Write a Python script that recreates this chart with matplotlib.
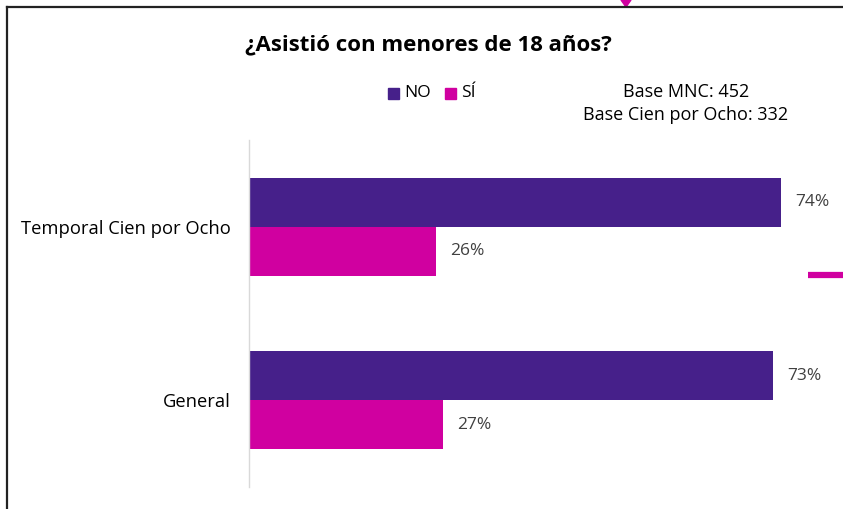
import matplotlib.pyplot as plt
from matplotlib.lines import Line2D
from matplotlib.patches import Polygon

plt.rcParams['font.family'] = ['Open Sans', 'DejaVu Sans']

# Datos del gráfico
categorias = ['General', 'Temporal Cien por Ocho']
valores_no = [73, 74]
valores_si = [27, 26]
series = ['NO', 'SÍ']
titulo = '¿Asistió con menores de 18 años?'
bases = ['Base MNC: 452', 'Base Cien por Ocho: 332']

color_no = '#46208A'
color_si = '#D000A0'

fig = plt.figure(figsize=(8.43, 5.09), dpi=100)
ax = fig.add_axes([249 / 843, 1 - 487 / 509, (838 - 249) / 843, (487 - 140) / 509])

alto = 0.283
pos = range(len(categorias))
b_no = ax.barh([p + alto / 2 for p in pos], valores_no, height=alto, color=color_no)
b_si = ax.barh([p - alto / 2 for p in pos], valores_si, height=alto, color=color_si)

for barras in (b_no, b_si):
    for b in barras:
        ax.text(b.get_width() + 2.0, b.get_y() + b.get_height() / 2, f"{int(b.get_width())}%",
                va='center', ha='left', fontsize=12.5, color='#404040')

ax.set_xlim(0, 82)
ax.set_ylim(-0.5, 1.5)
ax.set_yticks(list(pos))
ax.set_yticklabels(categorias, fontsize=13.2, color='black')
ax.tick_params(axis='y', length=0, pad=13)
ax.xaxis.set_visible(False)

# Solo la línea del eje Y en gris claro
for s in ['top', 'right', 'bottom']:
    ax.spines[s].set_visible(False)
ax.spines['left'].set_color('#D9D9D9')
ax.spines['left'].set_linewidth(1)

# Título
fig.text(428 / 843, 1 - 45 / 509, titulo, ha='center', va='center', fontsize=16, fontweight='bold')

# Leyenda manual
fig.patches.append(plt.Rectangle((388 / 843, 1 - 99 / 509), 11 / 843, 11 / 509,
                                 transform=fig.transFigure, color=color_no))
fig.text(404 / 843, 1 - 93 / 509, series[0], ha='left', va='center', fontsize=12.5)
fig.patches.append(plt.Rectangle((445 / 843, 1 - 99 / 509), 11 / 843, 11 / 509,
                                 transform=fig.transFigure, color=color_si))
fig.text(461 / 843, 1 - 93 / 509, series[1], ha='left', va='center', fontsize=12.5)

# Bases
fig.text(686 / 843, 1 - 92 / 509, bases[0], ha='center', va='center', fontsize=13)
fig.text(686 / 843, 1 - 115 / 509, bases[1], ha='center', va='center', fontsize=13)

# Marco parcial (borde superior e izquierdo)
fig.add_artist(Line2D([6.5 / 843, 6.5 / 843], [0, 1 - 6.5 / 509], transform=fig.transFigure,
                      color='#222222', linewidth=1.6))
fig.add_artist(Line2D([6.5 / 843, 1], [1 - 6.5 / 509, 1 - 6.5 / 509], transform=fig.transFigure,
                      color='#222222', linewidth=1.6))

# Restos de otros elementos en magenta
fig.add_artist(Polygon([(621 / 843, 1), (631 / 843, 1), (626 / 843, 1 - 7 / 509)], closed=True,
                       transform=fig.transFigure, color=color_si))
fig.add_artist(Line2D([808 / 843, 1], [1 - 275 / 509, 1 - 275 / 509], transform=fig.transFigure,
                      color=color_si, linewidth=4.5, solid_capstyle='butt'))

fig.savefig('out.png', dpi=100, facecolor='white')
